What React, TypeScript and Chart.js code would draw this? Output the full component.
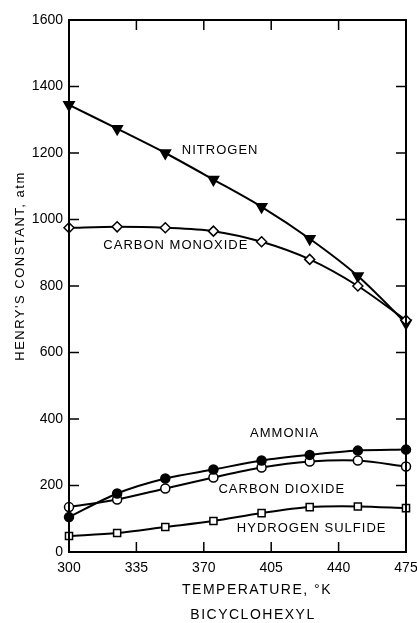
import React, { useEffect, useRef } from "react";
import { Chart, registerables } from "chart.js";

Chart.register(...registerables);

const temperatures = [300, 325, 350, 375, 400, 425, 450, 475];
const nitrogen = [1345, 1273, 1200, 1120, 1038, 942, 830, 688];
const carbonMonoxide = [975, 978, 975, 965, 933, 880, 800, 697];
const ammonia = [105, 176, 221, 248, 275, 292, 305, 308];
const carbonDioxide = [135, 158, 191, 224, 254, 272, 275, 257];
const hydrogenSulfide = [48, 57, 75, 93, 117, 135, 137, 132];

const xTicks = [300, 335, 370, 405, 440, 475];
const yTicks = [0, 200, 400, 600, 800, 1000, 1200, 1400, 1600];

const seriesLabels = ["NITROGEN", "CARBON MONOXIDE", "AMMONIA", "CARBON DIOXIDE", "HYDROGEN SULFIDE"];
const labelX = [378.5, 355.5, 412, 410.5, 426];
const labelY = [1209, 923, 358, 189, 72];

const yTitle = "HENRY'S CONSTANT, atm";
const xTitle = "TEMPERATURE, °K";
const caption = "BICYCLOHEXYL";

const FONT = "'Liberation Sans', Arial, sans-serif";

const pts = (vals: number[]) => vals.map((v, i) => ({ x: temperatures[i], y: v }));

const framePlugin = {
  id: "frame",
  afterDraw(chart: any) {
    const { ctx, chartArea: a, scales } = chart;
    const xs = scales.x;
    const ys = scales.y;
    ctx.save();
    ctx.strokeStyle = "#000";
    ctx.lineWidth = 2;
    ctx.strokeRect(a.left, a.top, a.right - a.left, a.bottom - a.top);
    ctx.lineWidth = 1.5;
    const tl = 10;
    ctx.beginPath();
    xTicks.slice(1, -1).forEach((t) => {
      const px = xs.getPixelForValue(t);
      ctx.moveTo(px, a.bottom);
      ctx.lineTo(px, a.bottom - tl);
      ctx.moveTo(px, a.top);
      ctx.lineTo(px, a.top + tl);
    });
    yTicks.slice(1, -1).forEach((t) => {
      const py = ys.getPixelForValue(t);
      ctx.moveTo(a.left, py);
      ctx.lineTo(a.left + tl, py);
      ctx.moveTo(a.right, py);
      ctx.lineTo(a.right - tl, py);
    });
    ctx.stroke();

    ctx.fillStyle = "#000";
    ctx.textAlign = "center";
    ctx.textBaseline = "middle";
    ctx.font = `13px ${FONT}`;
    (ctx as any).letterSpacing = "1px";
    seriesLabels.forEach((s, i) => {
      ctx.fillText(s, xs.getPixelForValue(labelX[i]), ys.getPixelForValue(labelY[i]));
    });

    ctx.font = `14px ${FONT}`;
    (ctx as any).letterSpacing = "1.5px";
    ctx.fillText(xTitle, 257, 590);
    ctx.fillText(caption, 253, 615);

    ctx.save();
    ctx.translate(20, 266);
    ctx.rotate(-Math.PI / 2);
    ctx.font = `13px ${FONT}`;
    (ctx as any).letterSpacing = "1.5px";
    ctx.fillText(yTitle, 0, 0);
    ctx.restore();
    ctx.restore();
  },
};

export default function App() {
  const ref = useRef<HTMLCanvasElement | null>(null);
  useEffect(() => {
    if (!ref.current) return;
    const common = {
      borderColor: "#000",
      borderWidth: 2,
      pointBorderColor: "#000",
      pointBorderWidth: 1.5,
      tension: 0.3,
      fill: false,
      clip: false,
    };
    const chart = new Chart(ref.current, {
      type: "line",
      data: {
        datasets: [
          { ...common, label: "Carbon monoxide", data: pts(carbonMonoxide), pointStyle: "rectRot", pointRadius: 5, pointBackgroundColor: "#fff", order: 1 },
          { ...common, label: "Nitrogen", data: pts(nitrogen), pointStyle: "triangle", rotation: 180, pointRadius: 6, pointBackgroundColor: "#000", order: 2 },
          { ...common, label: "Ammonia", data: pts(ammonia), pointStyle: "circle", pointRadius: 4.5, pointBackgroundColor: "#000" },
          { ...common, label: "Carbon dioxide", data: pts(carbonDioxide), pointStyle: "circle", pointRadius: 4.5, pointBackgroundColor: "#fff" },
          { ...common, label: "Hydrogen sulfide", data: pts(hydrogenSulfide), pointStyle: "rect", pointRadius: 5, pointBackgroundColor: "#fff" },
        ],
      } as any,
      options: {
        animation: false,
        responsive: true,
        maintainAspectRatio: false,
        layout: { padding: { top: 20, right: 11, left: 0, bottom: 0 } },
        plugins: { legend: { display: false }, tooltip: { enabled: false }, title: { display: false } },
        scales: {
          x: {
            type: "linear",
            min: 300,
            max: 475,
            afterBuildTicks: (s: any) => { s.ticks = xTicks.map((v) => ({ value: v })); },
            afterFit: (s: any) => { s.height = 71; s.paddingLeft = 0; s.paddingRight = 0; },
            grid: { display: false, drawTicks: false },
            border: { display: false },
            ticks: { color: "#000", padding: 8, font: { size: 14, family: FONT }, maxRotation: 0, autoSkip: false, callback: (v: any) => String(v) },
          },
          y: {
            type: "linear",
            min: 0,
            max: 1600,
            afterBuildTicks: (s: any) => { s.ticks = yTicks.map((v) => ({ value: v })); },
            afterFit: (s: any) => { s.width = 69; s.paddingTop = 0; s.paddingBottom = 0; },
            grid: { display: false, drawTicks: false },
            border: { display: false },
            ticks: { color: "#000", padding: 6, font: { size: 14, family: FONT }, callback: (v: any) => String(v) },
          },
        },
      } as any,
      plugins: [framePlugin],
    });
    return () => chart.destroy();
  }, []);
  return (
    <div style={{ position: "fixed", left: 0, top: 0, width: 417, height: 623, background: "#fff" }}>
      <canvas ref={ref} />
    </div>
  );
}
